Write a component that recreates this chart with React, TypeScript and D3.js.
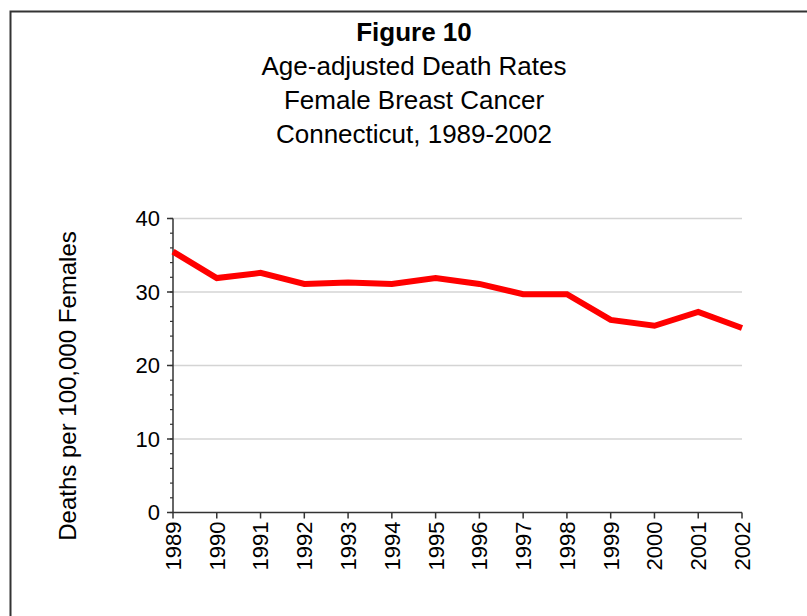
import React from "react";
import * as d3 from "d3";

const years = ["1989","1990","1991","1992","1993","1994","1995","1996","1997","1998","1999","2000","2001","2002"];
const rates = [35.5, 31.9, 32.6, 31.1, 31.3, 31.1, 31.9, 31.1, 29.7, 29.7, 26.2, 25.4, 27.3, 25.1];
const yTicks = [0, 10, 20, 30, 40];
const yMinor = d3.range(0, 41, 2);
const titleLines = ["Age-adjusted Death Rates", "Female Breast Cancer", "Connecticut, 1989-2002"];
const titleMain = "Figure 10";
const yLabel = "Deaths per 100,000 Females";

export default function App() {
  const W = 807, H = 616;
  const left = 173, right = 742, top = 218.5, bottom = 512.5;
  const x = d3.scalePoint<string>().domain(years).range([left, right]);
  const y = d3.scaleLinear().domain([0, 40]).range([bottom, top]);
  const line = d3.line<number>().x((_, i) => x(years[i]) as number).y(d => y(d));
  const font = "Arial, 'Liberation Sans', Helvetica, sans-serif";
  return (
    <svg width={W} height={H} style={{ position: "absolute", left: 0, top: 0, background: "#fff" }} fontFamily={font}>
      <rect x={0} y={0} width={W} height={H} fill="#fff" />
      <path d={`M10.5,${H} L10.5,11.5 L${W},11.5`} fill="none" stroke="#333" strokeWidth={2} />
      <text x={414} y={41} textAnchor="middle" fontSize={26} fontWeight="bold">{titleMain}</text>
      {titleLines.map((t, i) => (
        <text key={t} x={414} y={75 + i * 34} textAnchor="middle" fontSize={26}>{t}</text>
      ))}
      {yTicks.filter(t => t > 0).map(t => (
        <line key={"g" + t} x1={left} x2={right} y1={y(t)} y2={y(t)} stroke="#d4d4d4" strokeWidth={1.5} />
      ))}
      {yMinor.map(t => (
        <line key={"m" + t} x1={left - 3} x2={left} y1={y(t)} y2={y(t)} stroke="#333" strokeWidth={1.2} />
      ))}
      {yTicks.map(t => (
        <g key={"t" + t}>
          <line x1={left - 6} x2={left} y1={y(t)} y2={y(t)} stroke="#333" strokeWidth={1.5} />
          <text x={left - 13} y={y(t)} dy="0.35em" textAnchor="end" fontSize={22}>{t}</text>
        </g>
      ))}
      {years.map(yr => (
        <g key={yr}>
          <line x1={x(yr)} x2={x(yr)} y1={bottom} y2={bottom + 6} stroke="#333" strokeWidth={1.5} />
          <text transform={`translate(${x(yr)},${bottom + 9}) rotate(-90)`} textAnchor="end" dy="0.36em" fontSize={22}>{yr}</text>
        </g>
      ))}
      <line x1={left} x2={left} y1={top} y2={bottom} stroke="#333" strokeWidth={1.5} />
      <line x1={left} x2={right} y1={bottom} y2={bottom} stroke="#333" strokeWidth={1.5} />
      <path d={line(rates) || ""} fill="none" stroke="#ff0000" strokeWidth={6} strokeLinejoin="miter" />
      <text transform={`translate(76,386) rotate(-90)`} textAnchor="middle" fontSize={24}>{yLabel}</text>
    </svg>
  );
}
